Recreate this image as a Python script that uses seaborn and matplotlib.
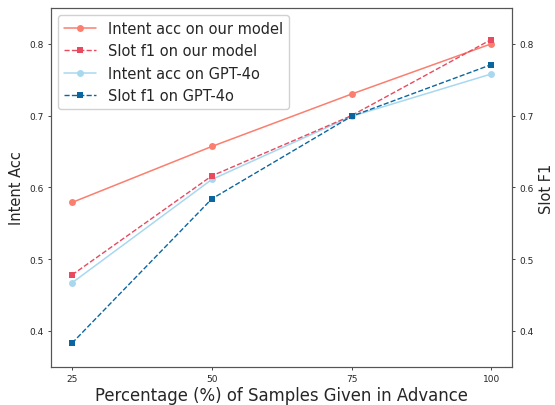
import matplotlib
matplotlib.use("Agg")
import matplotlib.pyplot as plt
import seaborn as sns
import pandas as pd

# Datos
percentages = [25, 50, 75, 100]
intent_ours = [0.579, 0.657, 0.730, 0.800]
slot_ours = [0.478, 0.616, 0.700, 0.806]
intent_gpt = [0.467, 0.611, 0.699, 0.758]
slot_gpt = [0.383, 0.584, 0.699, 0.771]

df = pd.DataFrame({
    'pct': percentages,
    'intent_ours': intent_ours,
    'slot_ours': slot_ours,
    'intent_gpt': intent_gpt,
    'slot_gpt': slot_gpt,
})

sns.set_style("ticks")
plt.rcParams['font.family'] = ['DejaVu Sans']

fig, ax1 = plt.subplots(figsize=(5.55, 4.06), dpi=100)
ax2 = ax1.twinx()

c_intent_ours = '#FA7F6F'
c_slot_ours = '#E84A5F'
c_intent_gpt = '#A8D8F0'
c_slot_gpt = '#0B66A0'

sns.lineplot(x='pct', y='intent_ours', data=df, ax=ax1, color=c_intent_ours,
             marker='o', markersize=5, markeredgewidth=0, linewidth=1.1,
             label='Intent acc on our model', legend=False)
sns.lineplot(x='pct', y='slot_ours', data=df, ax=ax2, color=c_slot_ours,
             marker='s', markersize=5, markeredgewidth=0, linewidth=1.0,
             linestyle='--', label='Slot f1 on our model', legend=False)
sns.lineplot(x='pct', y='intent_gpt', data=df, ax=ax1, color=c_intent_gpt,
             marker='o', markersize=5, markeredgewidth=0, linewidth=1.1,
             label='Intent acc on GPT-4o', legend=False)
sns.lineplot(x='pct', y='slot_gpt', data=df, ax=ax2, color=c_slot_gpt,
             marker='s', markersize=5, markeredgewidth=0, linewidth=1.0,
             linestyle='--', label='Slot f1 on GPT-4o', legend=False)

for ax in (ax1, ax2):
    ax.set_ylim(0.35, 0.85)
    ax.set_yticks([0.4, 0.5, 0.6, 0.7, 0.8])
    ax.tick_params(labelsize=6.5, length=2.5, width=0.6, pad=2.5)
    for s in ax.spines.values():
        s.set_color('#555555')

ax1.set_xticks(percentages)
ax1.set_xlabel('Percentage (%) of Samples Given in Advance', fontsize=11.9, labelpad=2)
ax1.set_ylabel('Intent Acc', fontsize=10.5)
ax2.set_ylabel('Slot F1', fontsize=10.5)

h1, l1 = ax1.get_legend_handles_labels()
h2, l2 = ax2.get_legend_handles_labels()
handles = [h1[0], h2[0], h1[1], h2[1]]
labels = [l1[0], l2[0], l1[1], l2[1]]
ax1.legend(handles, labels, loc='upper left', fontsize=10.5, framealpha=0.9,
           handlelength=2.2, borderaxespad=0.5)

plt.subplots_adjust(left=0.092, right=0.923, top=0.978, bottom=0.094)
plt.savefig('out.png', dpi=100)
